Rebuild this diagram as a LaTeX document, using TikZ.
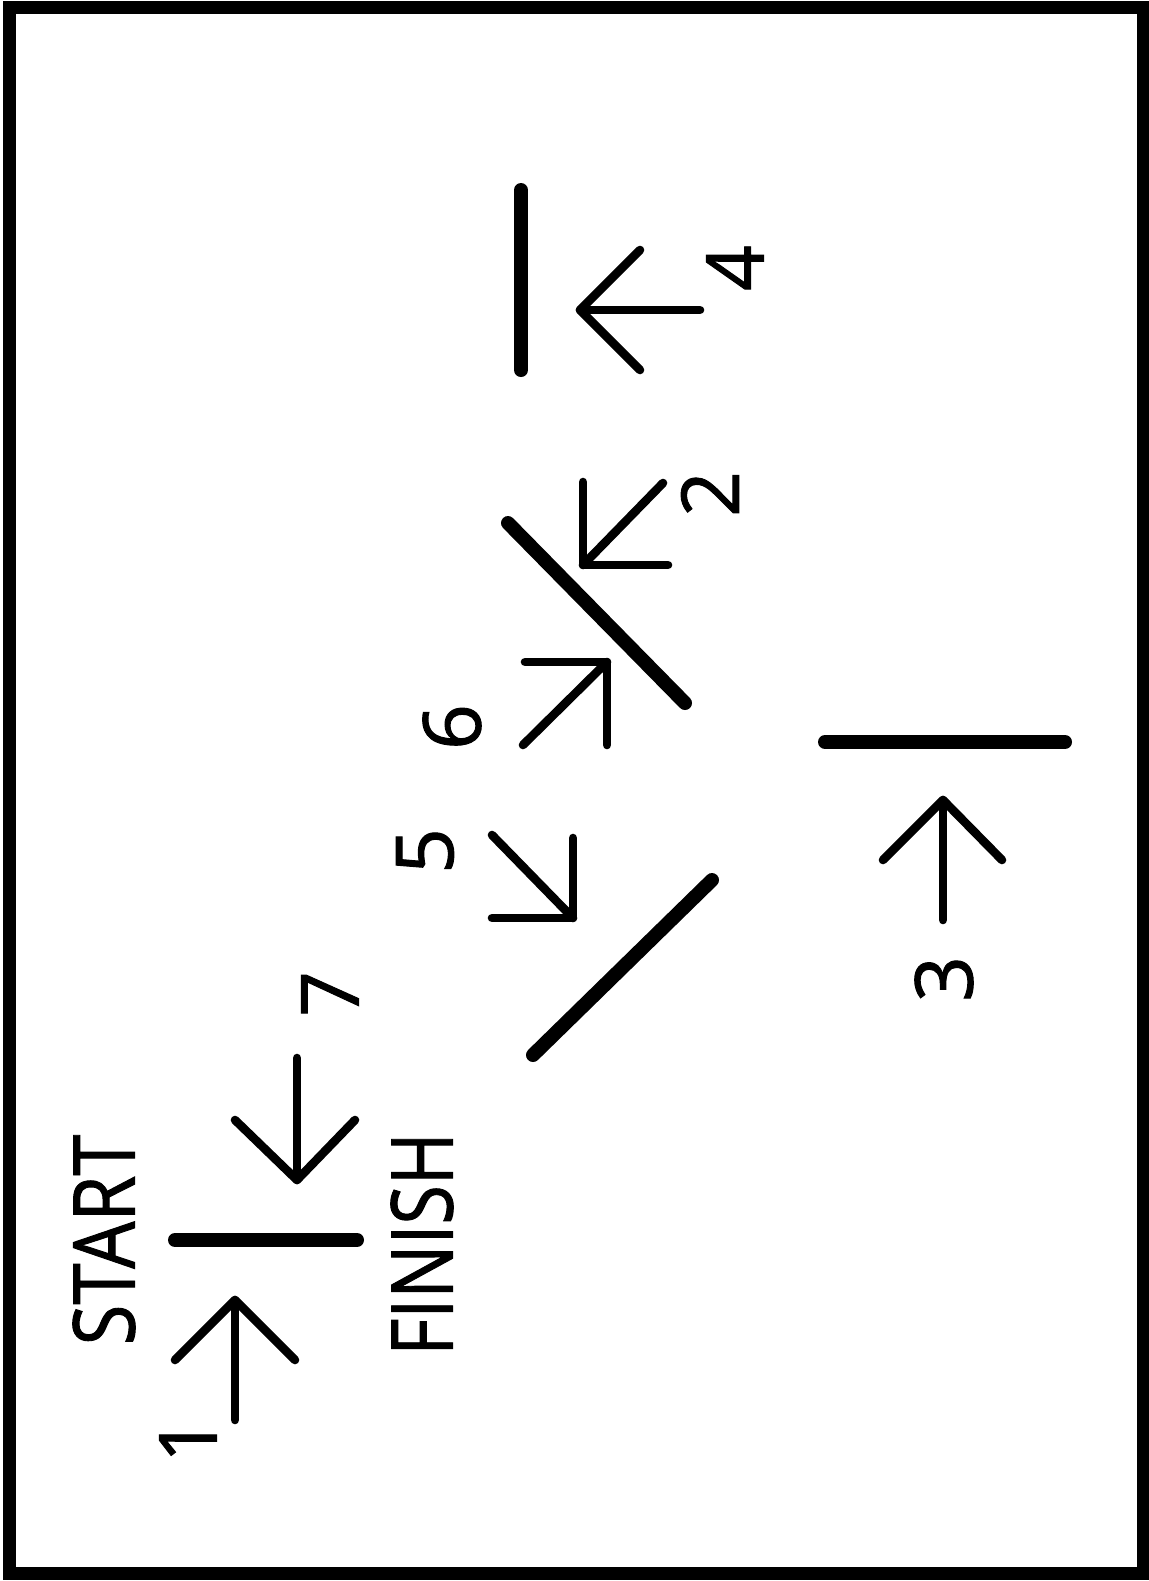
\documentclass[tikz,border=0pt]{standalone}
\usepackage{fontspec}
\setmainfont{Open Sans}
\newfontfamily\labelfont{Open Sans}[FakeBold=1.2]
\begin{document}
\begin{tikzpicture}[x=0.5pt,y=-0.5pt,
  frame/.style={line width=6.5pt},
  bar/.style={line width=7pt,line cap=round},
  arr/.style={line width=4.3pt,line cap=round,line join=round},
  word/.style={rotate=90,inner sep=0pt,font=\labelfont\fontsize{42.7pt}{48pt}\selectfont},
  num/.style={rotate=90,inner sep=0pt,font=\labelfont\fontsize{40pt}{46pt}\selectfont}]
\useasboundingbox (0,0) rectangle (1148,1581);
\fill[white] (0,0) rectangle (1148,1581);
\draw[frame] (9,7) rectangle (1143,1573);

% walls
\draw[bar] (175,1240) -- (357,1240);
\draw[bar] (712,880) -- (533,1055);
\draw[bar] (508,523) -- (685,703);
\draw[bar] (521,190) -- (521,370);
\draw[bar] (825,742) -- (1065,742);

% arrow 1
\coordinate (t1) at (235,1420); \coordinate (h1) at (235,1300);
\draw[arr] (t1) -- (h1);
\draw[arr] (175,1360) -- (h1) -- (295,1360);
% arrow 2
\coordinate (t2) at (663,483); \coordinate (h2) at (583,565);
\draw[arr] (t2) -- (h2);
\draw[arr] (583,482) -- (h2) -- (668,565);
% arrow 3
\coordinate (t3) at (943,920); \coordinate (h3) at (943,800);
\draw[arr] (t3) -- (h3);
\draw[arr] (883,860) -- (h3) -- (1002,860);
% arrow 4
\coordinate (t4) at (700,310); \coordinate (h4) at (580,310);
\draw[arr] (t4) -- (h4);
\draw[arr] (640,250) -- (h4) -- (640,370);
% arrow 5
\coordinate (t5) at (492,835); \coordinate (h5) at (573,918);
\draw[arr] (t5) -- (h5);
\draw[arr] (573,838) -- (h5) -- (492,918);
% arrow 6
\coordinate (t6) at (523,745); \coordinate (h6) at (607,662);
\draw[arr] (t6) -- (h6);
\draw[arr] (525,662) -- (h6) -- (607,745);
% arrow 7
\coordinate (t7) at (297,1058); \coordinate (h7) at (297,1180);
\draw[arr] (t7) -- (h7);
\draw[arr] (235,1120) -- (h7) -- (355,1120);

% labels
\node[word,xscale=0.87] (start) at (104,1240) {START};
\node[word,xscale=0.84] (finish) at (422,1244) {FINISH};
\node[num] (n1) at (188,1440) {1};
\node[num] (n2) at (710,494) {2};
\node[num] (n3) at (944,979) {3};
\node[num] (n4) at (735,268) {4};
\node[num] (n5) at (425,851) {5};
\node[num] (n6) at (452,727) {6};
\node[num] (n7) at (330,994) {7};
\end{tikzpicture}
\end{document}
